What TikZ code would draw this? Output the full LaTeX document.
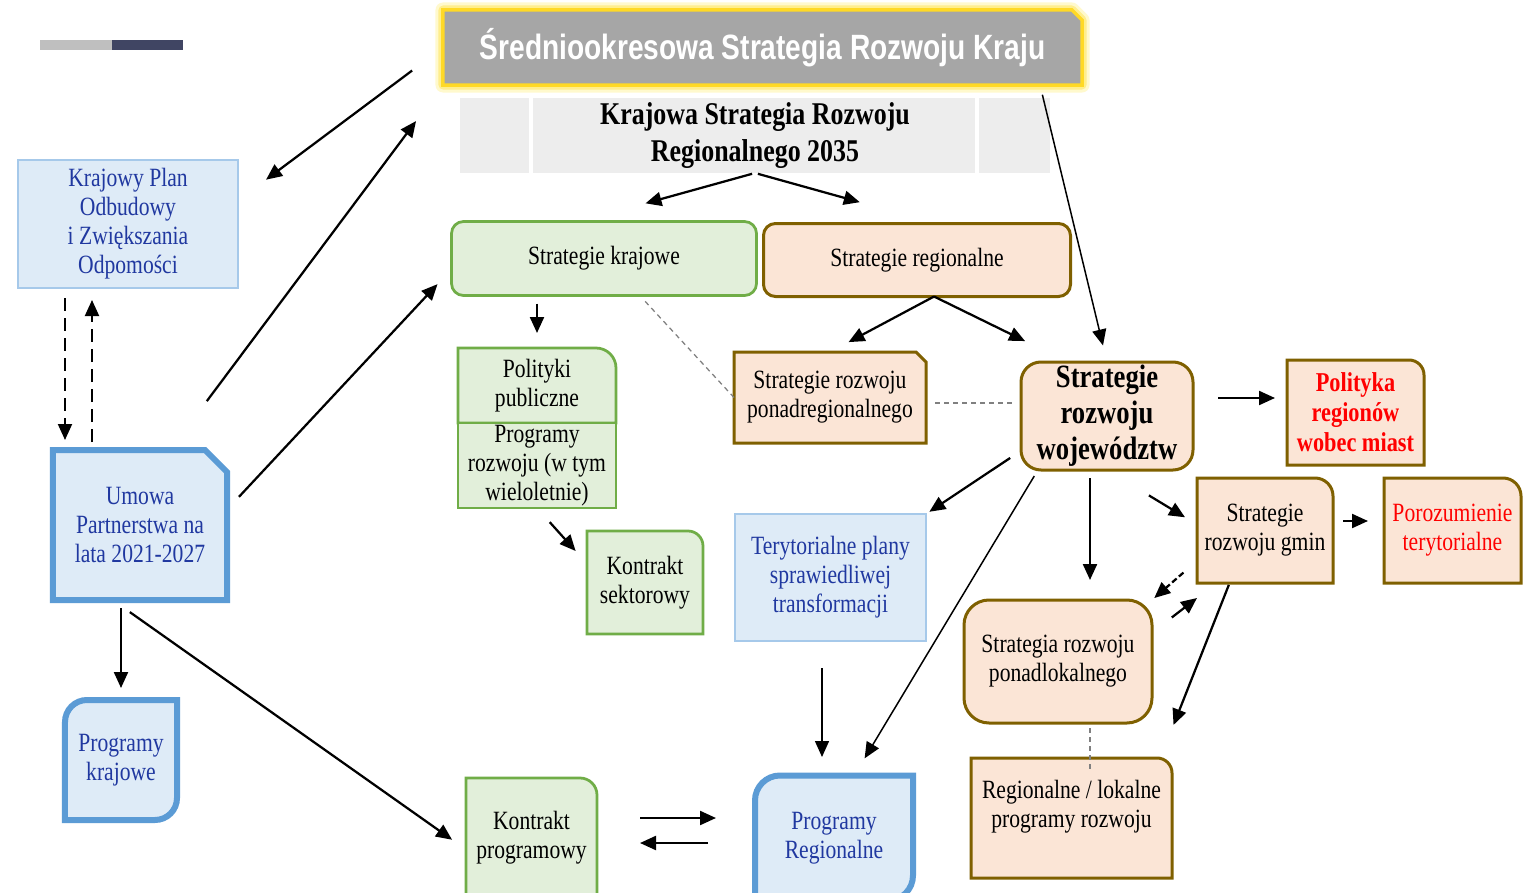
\documentclass[tikz,border=0pt]{standalone}
\usepackage{fontspec}
\setmainfont{Liberation Serif}[FakeStretch=0.82]
\newfontfamily\titlefont{Liberation Sans}[FakeStretch=0.8]
\usetikzlibrary{arrows.meta, backgrounds}

\definecolor{grline}{RGB}{112,173,71}
\definecolor{grfill}{RGB}{226,239,218}
\definecolor{brline}{RGB}{127,96,0}
\definecolor{pch}{RGB}{251,229,214}
\definecolor{blfill}{RGB}{222,235,247}
\definecolor{blthin}{RGB}{166,201,234}
\definecolor{blline}{RGB}{91,155,213}
\definecolor{bltext}{RGB}{32,56,160}
\definecolor{ksrrgray}{RGB}{237,237,237}
\definecolor{titlegray}{RGB}{166,166,166}
\definecolor{titleyel}{RGB}{255,217,38}
\definecolor{glowa}{RGB}{255,249,205}
\definecolor{glowb}{RGB}{255,238,140}
\definecolor{barlight}{RGB}{191,191,191}
\definecolor{bardark}{RGB}{64,69,99}
\definecolor{linkgray}{RGB}{128,128,128}

\tikzset{
  txtbox/.style={inner sep=1pt, outer sep=0pt, align=center, font=\fontsize{15}{16.5}\selectfont},
  greenbox/.style={draw=grline, fill=grfill, line width=0.55mm},
  brownbox/.style={draw=brline, fill=pch, line width=0.6mm},
  bluethin/.style={draw=blthin, fill=blfill, line width=0.35mm},
  bluethick/.style={draw=blline, fill=blfill, line width=1.2mm},
  arr/.style={->, line width=0.45mm},
  thinarr/.style={->, line width=0.3mm},
  dasharr/.style={->, line width=0.4mm, dash pattern=on 2.6mm off 1.4mm},
  link/.style={draw=linkgray, line width=0.25mm, dash pattern=on 1mm off 0.8mm},
}

\begin{document}
\begin{tikzpicture}[x=0.2mm, y=-0.2mm, >={Triangle[length=3.2mm, width=2.8mm]}]
	\useasboundingbox (0,0) rectangle (1534,893);

	\node[txtbox, minimum width=127.8mm, minimum height=15mm, text=white, font=\titlefont\bfseries\fontsize{20}{24}\selectfont] (title) at (762.5,47.5) {Średniookresowa Strategia Rozwoju Kraju};
	\node[txtbox, fill=ksrrgray, minimum width=118mm, minimum height=15mm, font=\bfseries\fontsize{18}{21}\selectfont] (ksrr) at (755,135.5) {Krajowa Strategia Rozwoju\\Regionalnego 2035};
	\node[txtbox, bluethin, text=bltext, minimum width=44mm, minimum height=25.6mm] (kpo) at (128,224) {Krajowy Plan\\Odbudowy\\i Zwiększania\\Odpomości};
	\node[txtbox, text=bltext, minimum width=34.8mm, minimum height=30mm] (umowa) at (140,525) {Umowa\\Partnerstwa na\\lata 2021-2027};
	\node[txtbox, text=bltext, minimum width=22.4mm, minimum height=24mm] (pk) at (121,760) {Programy\\krajowe};

	\node[txtbox, greenbox, rounded corners=2.4mm, minimum width=61mm, minimum height=14.8mm] (sk) at (604,258.5) {Strategie krajowe};
	\node[txtbox, brownbox, rounded corners=2.4mm, minimum width=61.4mm, minimum height=14.6mm] (sr) at (917,260) {Strategie regionalne};
	\node[txtbox, minimum width=31.6mm, minimum height=15mm] (pol) at (537,385.5) {Polityki\\publiczne};
	\node[txtbox, greenbox, minimum width=31.6mm, minimum height=17mm] (prw) at (537,465.5) {Programy\\rozwoju (w tym\\wieloletnie)};
	\node[txtbox, minimum width=23.2mm, minimum height=20.6mm] (ks) at (645,582.5) {Kontrakt\\sektorowy};
	\node[txtbox, minimum width=38.4mm, minimum height=18.2mm] (spr) at (830,397.5) {Strategie rozwoju\\ponadregionalnego};
	\node[txtbox, brownbox, rounded corners=4mm, minimum width=34.4mm, minimum height=21.6mm, font=\bfseries\fontsize{18.5}{20.5}\selectfont] (sw) at (1107,416) {Strategie\\rozwoju\\województw};
	\node[txtbox, text=red, font=\bfseries\fontsize{15.5}{17}\selectfont, minimum width=27.4mm, minimum height=21mm] (prm) at (1355.5,412.5) {Polityka\\regionów\\wobec miast};
	\node[txtbox, bluethin, text=bltext, minimum width=38.2mm, minimum height=25.4mm] (tpst) at (830.5,577.5) {Terytorialne plany\\sprawiedliwej\\transformacji};
	\node[txtbox, minimum width=27.2mm, minimum height=21mm] (sg) at (1265,530.5) {Strategie\\rozwoju gmin};
	\node[txtbox, text=red, minimum width=27.4mm, minimum height=21mm] (pt) at (1452.5,530.5) {Porozumienie\\terytorialne};
	\node[txtbox, brownbox, rounded corners=5mm, minimum width=37.6mm, minimum height=24.6mm] (spl) at (1058,661.5) {Strategia rozwoju\\ponadlokalnego};
	\node[txtbox, minimum width=40.2mm, minimum height=24mm] (rlp) at (1071.5,818) {Regionalne / lokalne\\programy rozwoju\\[0mm]\mbox{}};
	\node[txtbox, text=bltext, minimum width=31.6mm, minimum height=25mm] (prg) at (834,838) {Programy\\Regionalne};
	\node[txtbox, minimum width=26.2mm, minimum height=24mm] (kp) at (531.5,838) {Kontrakt\\programowy};

	\begin{scope}[on background layer]
		\fill[white] (0,0) rectangle (1534,893);
		\foreach \w/\c in {3mm/glowa, 1.8mm/glowb}
			\draw[\c, line width=\w, line join=round] (title.south west) -- (title.north west) -- ([xshift=-2mm]title.north east) -- ([yshift=-2mm]title.north east) -- (title.south east) -- cycle;
		\draw[fill=titlegray, draw=titleyel, line width=0.7mm] (title.south west) -- (title.north west) -- ([xshift=-2mm]title.north east) -- ([yshift=-2mm]title.north east) -- (title.south east) -- cycle;
		\foreach \n/\s/\r in {spr/brownbox/2mm, umowa/bluethick/4.4mm}
			\draw[\s] (\n.south west) -- (\n.north west) -- ([xshift=-\r]\n.north east) -- ([yshift=-\r]\n.north east) -- (\n.south east) -- cycle;
		\foreach \n/\s/\r in {pol/greenbox/4mm, ks/greenbox/3mm, kp/greenbox/3.4mm, prm/brownbox/3mm, sg/brownbox/3.6mm, pt/brownbox/3.6mm, rlp/brownbox/3mm}
			\draw[\s] (\n.south west) -- (\n.north west) -- ([xshift=-\r]\n.north east) arc[start angle=90, end angle=0, radius=\r] -- (\n.south east) -- cycle;
		\foreach \n/\r in {pk/4.4mm, prg/5mm}
			\draw[bluethick] ([yshift=-\r]\n.north west) arc[start angle=180, end angle=90, radius=\r] -- (\n.north east) -- ([yshift=\r]\n.south east) arc[start angle=0, end angle=-90, radius=\r] -- (\n.south west) -- cycle;
	\end{scope}

	\fill[barlight] (40,40) rectangle (112,50);
	\fill[bardark] (112,40) rectangle (183,50);
	\draw[white, line width=0.8mm] ([xshift=14.2mm]ksrr.north west) -- ([xshift=14.2mm]ksrr.south west);
	\draw[white, line width=0.8mm] ([xshift=-14.6mm]ksrr.north east) -- ([xshift=-14.6mm]ksrr.south east);

	\draw[arr, shorten <=7.7mm, shorten >=7mm] (title.west) -- (kpo.12);
	\draw[arr, shorten <=12.2mm, shorten >=9mm] (umowa.68) -- (title.south west);
	\draw[arr, shorten <=3.5mm, shorten >=4.1mm] (umowa.10) -- (sk.184);
	\draw[dasharr, shorten <=2mm, shorten >=2mm] ([xshift=-12.6mm]kpo.south) -- ([xshift=-12.6mm]kpo.south |- umowa.north);
	\draw[dasharr, shorten <=1.6mm, shorten >=2.4mm] ([xshift=-7.2mm]kpo.south |- umowa.north) -- ([xshift=-7.2mm]kpo.south);
	\draw[arr, shorten <=1.6mm, shorten >=2.4mm] (pk.north |- umowa.south) -- (pk.north);
	\draw[arr, shorten <=4.2mm, shorten >=3.4mm] (umowa.250) -- (kp.190);

	\draw[arr, shorten <=0.6mm, shorten >=13.6mm] (ksrr.south) -- (sk.123);
	\draw[arr, shorten <=0.6mm, shorten >=15.9mm] (ksrr.south) -- (sr.62);
	\draw[arr, shorten <=1.6mm, shorten >=3mm] (pol.north |- sk.south) -- (pol.north);
	\draw[arr, shorten <=3.8mm, shorten >=3.4mm] (prw.south) -- (ks.162);
	\draw[link, shorten <=1.6mm] (sk.-46) -- (spr.west);
	\draw[arr, shorten >=4.2mm] (sr.-65) -- (spr.north);
	\draw[arr, shorten >=9.5mm] (sr.-65) -- (sw.126);
	\draw[thinarr, shorten <=2mm, shorten >=3.4mm] ([xshift=-8.4mm]title.south east) -- (sw.north);
	\draw[link, shorten <=1.8mm, shorten >=1.8mm] ([yshift=-1.1mm]spr.east) -- ([yshift=-1.1mm]spr.east -| sw.west);

	\draw[arr, shorten <=5mm, shorten >=2.4mm] ([yshift=2.9mm]prm.west -| sw.east) -- ([yshift=2.9mm]prm.west);
	\draw[arr, shorten <=2.6mm, shorten >=0.8mm] (sw.202) -- (tpst.north east);
	\draw[thinarr, shorten <=1.4mm, shorten >=4mm] (sw.218) -- (prg.72);
	\draw[thinarr, shorten <=5.4mm, shorten >=3.7mm] ([xshift=-1.7mm]tpst.south) -- ([xshift=-1.7mm]tpst.south |- prg.north);
	\draw[arr, shorten <=1.6mm, shorten >=4mm] ([xshift=-3.4mm]sw.south) -- ([xshift=-3.4mm]sw.south |- spl.north);
	\draw[arr, shorten <=9.8mm, shorten >=2.8mm] (sw.south) -- (sg.175);
	\draw[arr, shorten <=2mm, shorten >=3.2mm] ([yshift=1.9mm]sg.east) -- ([yshift=1.9mm]pt.west);
	\draw[dasharr, line width=0.45mm, dash pattern=on 1.2mm off 0.6mm, shorten <=3.6mm, shorten >=0.6mm] (sg.204) -- (spl.north east);
	\draw[arr, shorten <=5mm] (spl.17) -- ([yshift=-3mm]sg.south west);
	\draw[arr, shorten <=0.4mm, shorten >=7.1mm] (sg.236) -- (rlp.34);
	\draw[link, shorten <=1mm, shorten >=-2.4mm] ([xshift=6.4mm]spl.south) -- ([xshift=6.4mm]spl.south |- rlp.north);

	\draw[arr, shorten <=8.6mm, shorten >=7.8mm] ([yshift=4mm]kp.east) -- ([yshift=4mm]kp.east -| prg.west);
	\draw[arr, shorten <=9.4mm, shorten >=8.6mm] ([yshift=-1mm]prg.west) -- ([yshift=-1mm]prg.west -| kp.east);
\end{tikzpicture}
\end{document}
